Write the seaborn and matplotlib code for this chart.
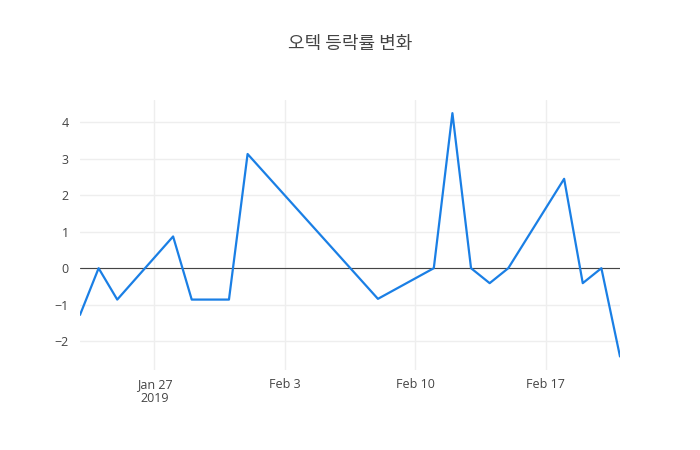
import matplotlib
matplotlib.use("Agg")
import matplotlib.pyplot as plt
import pandas as pd
import seaborn as sns

# data
dates = ["2019-01-23", "2019-01-24", "2019-01-25", "2019-01-28", "2019-01-29",
         "2019-01-31", "2019-02-01", "2019-02-08", "2019-02-11", "2019-02-12",
         "2019-02-13", "2019-02-14", "2019-02-15", "2019-02-18", "2019-02-19",
         "2019-02-20", "2019-02-21"]
change = [-1.28, 0.0, -0.86, 0.87, -0.86,
          -0.86, 3.13, -0.84, 0.0, 4.25,
          0.0, -0.41, 0.0, 2.45, -0.41,
          0.0, -2.42]
title = "오텍 등락률 변화"

df = pd.DataFrame({"date": pd.to_datetime(dates), "change": change})

sns.set_style("white")
plt.rcParams["font.family"] = ["Open Sans", "Noto Sans CJK KR", "DejaVu Sans"]
plt.rcParams["axes.unicode_minus"] = True

fig = plt.figure(figsize=(7, 4.5), dpi=100)
ax = fig.add_axes([80 / 700, 80 / 450, 540 / 700, 270 / 450])

ax.axhline(0, color="#444444", lw=0.8, zorder=2)
sns.lineplot(data=df, x="date", y="change", ax=ax, color="#1a7fe5", lw=1.6, zorder=3)

ax.set_xlim(df["date"].min(), df["date"].max())
ax.set_ylim(-2.79, 4.61)
ax.set_yticks([-2, -1, 0, 1, 2, 3, 4])
ticks = pd.to_datetime(["2019-01-27", "2019-02-03", "2019-02-10", "2019-02-17"])
ax.set_xticks(ticks)
ax.set_xticklabels(["Jan 27\n2019", "Feb 3", "Feb 10", "Feb 17"], linespacing=1.1)

ax.grid(True, color="#eeeeee", lw=1, zorder=0)
for s in ax.spines.values():
    s.set_visible(False)
ax.tick_params(axis="both", length=0, labelsize=9, colors="#444444")
ax.tick_params(axis="y", pad=8)
ax.tick_params(axis="x", pad=6)
ax.set_xlabel("")
ax.set_ylabel("")

fig.text(0.5, 1 - 44 / 450, title, ha="center", va="center", fontsize=13,
         color="#444444", family=["Noto Sans CJK KR", "DejaVu Sans"])

fig.savefig("out.png", dpi=100, facecolor="white")
